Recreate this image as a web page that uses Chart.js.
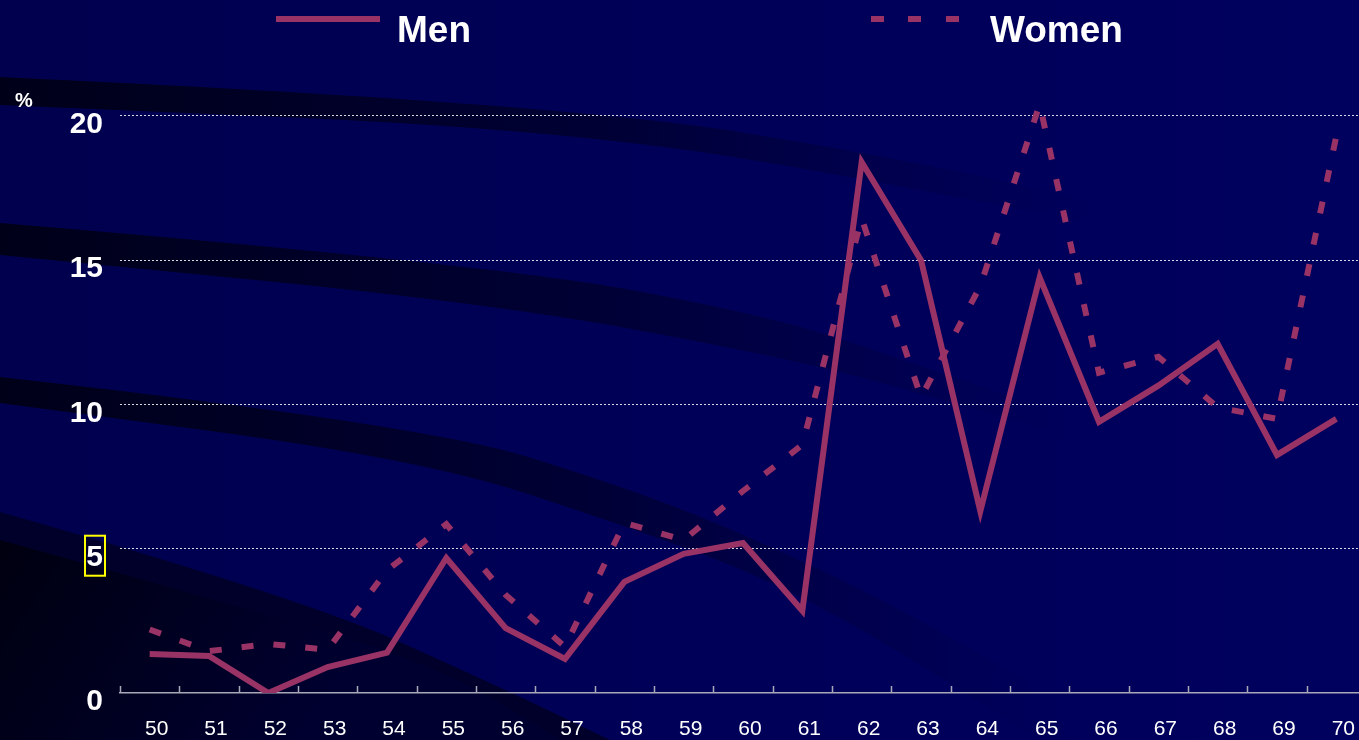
<!DOCTYPE html>
<html>
<head>
<meta charset="utf-8">
<script src="https://cdn.jsdelivr.net/npm/chart.js@4.4.1/dist/chart.umd.min.js"></script>
<style>
  html, body { margin: 0; padding: 0; background: #00005c; overflow: hidden; width: 1359px; height: 740px; }
  #wrap { position: relative; width: 1359px; height: 740px; overflow: hidden; }
  canvas { position: absolute; left: 0; top: 0; }
  .lg { position: absolute; color: #fff; font-family: "Liberation Sans", Arial, sans-serif; font-weight: bold; white-space: nowrap; }
  .big { font-size: 37px; line-height: 37px; }
  .swatch { position: absolute; height: 6px; background: #993366; }
</style>
</head>
<body>
<div id="wrap">
  <canvas id="chart" width="1372" height="740"></canvas>
  <div class="swatch" style="left:276px;top:16px;width:104px"></div>
  <div class="lg big" style="left:397px;top:11px">Men</div>
  <div class="swatch" style="left:871px;top:16px;width:13px"></div>
  <div class="swatch" style="left:908px;top:16px;width:13px"></div>
  <div class="swatch" style="left:946px;top:16px;width:13px"></div>
  <div class="lg big" style="left:990px;top:11px">Women</div>
  <div class="lg" style="left:15px;top:90px;font-size:20px;line-height:20px">%</div>
</div>
<script>
// ages 50..70
const years = ["50", "51", "52", "53", "54", "55", "56", "57", "58", "59", "60",
               "61", "62", "63", "64", "65", "66", "67", "68", "69", "70"]
const men = [1.35, 1.28, 0, 0.9, 1.4, 4.68, 2.25, 1.18, 3.85, 4.82, 5.2,
             2.85, 18.4, 15.0, 6.3, 14.4, 9.4, 10.65, 12.1, 8.25, 9.5]
const women = [2.2, 1.45, 1.7, 1.5, 4.25, 5.85, 3.4, 1.6, 5.9, 5.3, 7.0,
               8.6, 16.45, 10.25, 14.1, 20.4, 11.1, 11.65, 9.9, 9.5, 19.3]
const yTicks = [0, 5, 10, 15, 20]

const lineColor = "#993366"
const font = "'Liberation Sans', Arial, sans-serif"

// dark sweeping bands behind the plot
const bands = [
  { top: [[0, 77], [561, 103], [912, 160], [1150, 215]], bottom: [[0, 105], [561, 129], [912, 186], [1150, 236]], fade: 1100 },
  { top: [[0, 223], [491, 264], [772, 316], [912, 363], [1080, 420]], bottom: [[0, 255], [491, 303], [772, 355], [912, 390], [1080, 440]], fade: 1080 },
  { top: [[0, 377], [421, 424], [632, 489], [772, 546], [912, 615], [1060, 700]], bottom: [[0, 403], [421, 459], [632, 528], [772, 580], [912, 658], [1040, 740]], fade: 1060 }
]
// lower-left dark corner
const cornerTop = [[0, 512], [300, 597], [500, 687], [610, 740]]
const cornerInner = [[0, 540], [300, 623], [450, 672], [560, 740]]

function smoothPath(ctx, pts, move) {
  if (move) ctx.moveTo(pts[0][0], pts[0][1])
  else ctx.lineTo(pts[0][0], pts[0][1])
  for (let i = 1; i < pts.length - 1; i++) {
    const mx = (pts[i][0] + pts[i + 1][0]) / 2
    const my = (pts[i][1] + pts[i + 1][1]) / 2
    ctx.quadraticCurveTo(pts[i][0], pts[i][1], mx, my)
  }
  const last = pts[pts.length - 1]
  ctx.lineTo(last[0], last[1])
}

const backdrop = {
  id: "backdrop",
  beforeDraw(chart) {
    const ctx = chart.ctx
    const w = chart.width, h = chart.height
    ctx.save()
    const base = ctx.createLinearGradient(0, 0, w, 0)
    base.addColorStop(0, "#00004e")
    base.addColorStop(0.5, "#000058")
    base.addColorStop(1, "#00005e")
    ctx.fillStyle = base
    ctx.fillRect(0, 0, w, h)

    bands.forEach(b => {
      const g = ctx.createLinearGradient(0, 0, b.fade, 0)
      g.addColorStop(0, "rgba(0,0,22,0.95)")
      g.addColorStop(0.55, "rgba(0,0,30,0.6)")
      g.addColorStop(1, "rgba(0,0,50,0)")
      ctx.beginPath()
      smoothPath(ctx, b.top, true)
      smoothPath(ctx, b.bottom.slice().reverse(), false)
      ctx.closePath()
      ctx.fillStyle = g
      ctx.fill()
    })

    ctx.beginPath()
    smoothPath(ctx, cornerTop, true)
    ctx.lineTo(0, h)
    ctx.closePath()
    ctx.fillStyle = "rgba(0,0,40,0.95)"
    ctx.fill()

    const cg = ctx.createLinearGradient(0, 540, 300, 740)
    cg.addColorStop(0, "#000010")
    cg.addColorStop(1, "#000030")
    ctx.beginPath()
    smoothPath(ctx, cornerInner, true)
    ctx.lineTo(0, h)
    ctx.closePath()
    ctx.fillStyle = cg
    ctx.fill()
    ctx.restore()
  }
}

const axisMarks = {
  id: "axisMarks",
  afterDraw(chart) {
    const ctx = chart.ctx
    const x = chart.scales.x, y = chart.scales.y
    const step = x.getPixelForTick(1) - x.getPixelForTick(0)
    const base = y.getPixelForValue(0)
    ctx.save()
    ctx.strokeStyle = "#a8a8b8"
    ctx.lineWidth = 1.5
    ctx.beginPath()
    for (let i = 0; i <= years.length; i++) {
      const px = Math.round(x.getPixelForTick(0) - step / 2 + i * step) + 0.5
      ctx.moveTo(px, base)
      ctx.lineTo(px, base - 7)
    }
    ctx.stroke()

    // yellow highlight around the "5" label
    const p5 = y.getPixelForValue(5)
    ctx.strokeStyle = "#ffff00"
    ctx.lineWidth = 2
    ctx.strokeRect(85, p5 - 13, 20, 40)
    ctx.restore()
  }
}

new Chart(document.getElementById("chart"), {
  type: "line",
  data: {
    labels: years,
    datasets: [
      { label: "Men", data: men, borderColor: lineColor, borderWidth: 6, pointRadius: 0, tension: 0 },
      { label: "Women", data: women, borderColor: lineColor, borderWidth: 6, borderDash: [12, 20], pointRadius: 0, tension: 0 }
    ]
  },
  options: {
    responsive: false,
    animation: false,
    devicePixelRatio: 1,
    layout: { padding: { top: 87, left: 0, right: 0, bottom: 0 } },
    plugins: { legend: { display: false }, tooltip: { enabled: false } },
    scales: {
      x: {
        offset: true,
        afterFit(scale) { scale.height = 47 },
        grid: { display: false, drawTicks: false },
        border: { display: true, color: "#a8a8b8", width: 1.5 },
        ticks: { color: "#ffffff", font: { family: font, size: 21 }, padding: 24, labelOffset: 7, maxRotation: 0, autoSkip: false }
      },
      y: {
        min: 0,
        max: 21,
        afterFit(scale) { scale.width = 120 },
        afterBuildTicks(scale) { scale.ticks = yTicks.map(v => ({ value: v })) },
        grid: {
          drawTicks: false,
          color: ctx => ctx.tick && ctx.tick.value === 0 ? "rgba(0,0,0,0)" : "rgba(255,255,255,0.85)",
          lineWidth: 1
        },
        border: { display: false, dash: [2, 2] },
        ticks: { color: "#ffffff", font: { family: font, size: 30, weight: "bold" }, padding: 17, labelOffset: 9 }
      }
    }
  },
  plugins: [backdrop, axisMarks]
})
</script>
</body>
</html>
